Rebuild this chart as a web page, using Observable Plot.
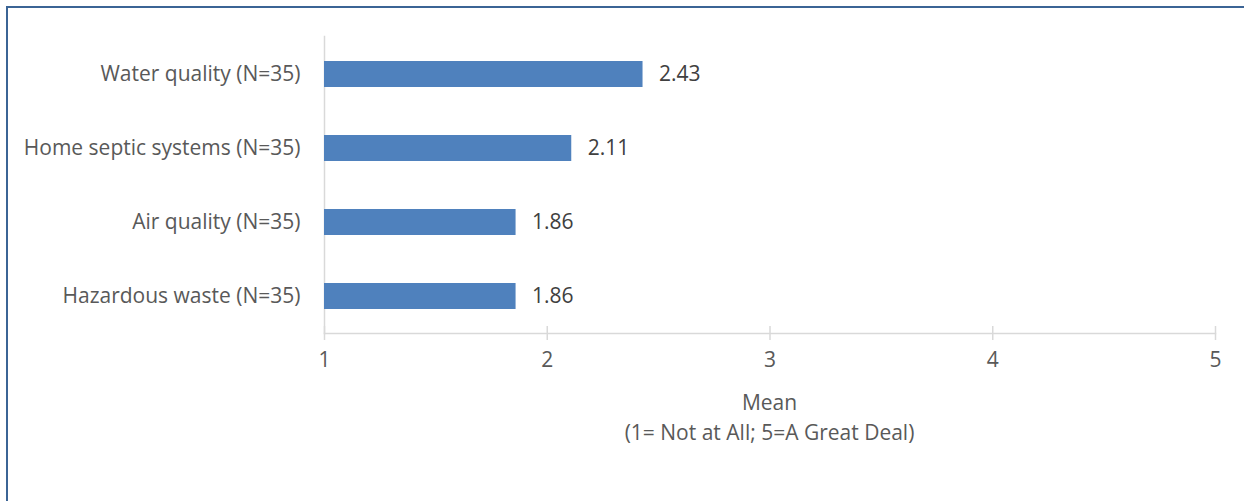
<!DOCTYPE html>
<html>
<head>
<meta charset="utf-8">
<script src="https://cdn.jsdelivr.net/npm/d3@7"></script>
<script src="https://cdn.jsdelivr.net/npm/@observablehq/plot@0.6"></script>
<style>
  html, body { margin: 0; padding: 0; background: #fff; overflow: hidden; }
  body { width: 1244px; height: 501px; position: relative; font-family: "Open Sans", sans-serif; }
  #frame { position: absolute; left: 6px; top: 6px; width: 1300px; height: 600px; border: 2px solid #3B6495; box-sizing: border-box; }
  #chart { position: absolute; left: 0; top: 0; }
  #caption { position: absolute; left: 324px; width: 891px; top: 387px; text-align: center; color: #595959; font-size: 21px; line-height: 30px; }
</style>
</head>
<body>
<div id="frame"></div>
<div id="chart"></div>
<div id="caption"></div>
<script>
const categories = ["Water quality (N=35)", "Home septic systems (N=35)", "Air quality (N=35)", "Hazardous waste (N=35)"];
const means = [2.43, 2.11, 1.86, 1.86];
const xTicks = [1, 2, 3, 4, 5];
const axisTitle = ["Mean", "(1= Not at All; 5=A Great Deal)"];

const data = categories.map((c, i) => ({category: c, mean: means[i]}));

const chart = Plot.plot({
  width: 1244,
  height: 380,
  marginLeft: 324,
  marginRight: 29,
  marginTop: 36,
  marginBottom: 47,
  style: {fontFamily: "'Open Sans', sans-serif", fontSize: "21px", color: "#595959", background: "transparent"},
  x: {domain: [1, 5]},
  y: {domain: categories, paddingInner: 0.65, paddingOuter: 0.325},
  marks: [
    Plot.frame({anchor: "left", stroke: "#d9d9d9", strokeWidth: 1.5}),
    Plot.frame({anchor: "bottom", stroke: "#d9d9d9", strokeWidth: 1.5}),
    Plot.barX(data, {x1: 1, x2: "mean", y: "category", fill: "#4F81BD"}),
    Plot.text(data, {x: "mean", y: "category", text: d => d.mean.toFixed(2), textAnchor: "start", dx: 16, fill: "#404040", fontSize: 21}),
    Plot.axisX(xTicks, {tickSize: 14, dy: -7, text: null, stroke: "#d9d9d9", strokeWidth: 1.5, label: null}),
    Plot.axisX(xTicks, {tickSize: 0, tickPadding: 19, tickFormat: "d", fill: "#595959", label: null, fontSize: 21}),
    Plot.axisY({tickSize: 0, tickPadding: 24, fill: "#595959", label: null, fontSize: 21})
  ]
});
document.getElementById("chart").appendChild(chart);
document.getElementById("caption").innerHTML = axisTitle.map(t => `<div>${t}</div>`).join("");
</script>
</body>
</html>
